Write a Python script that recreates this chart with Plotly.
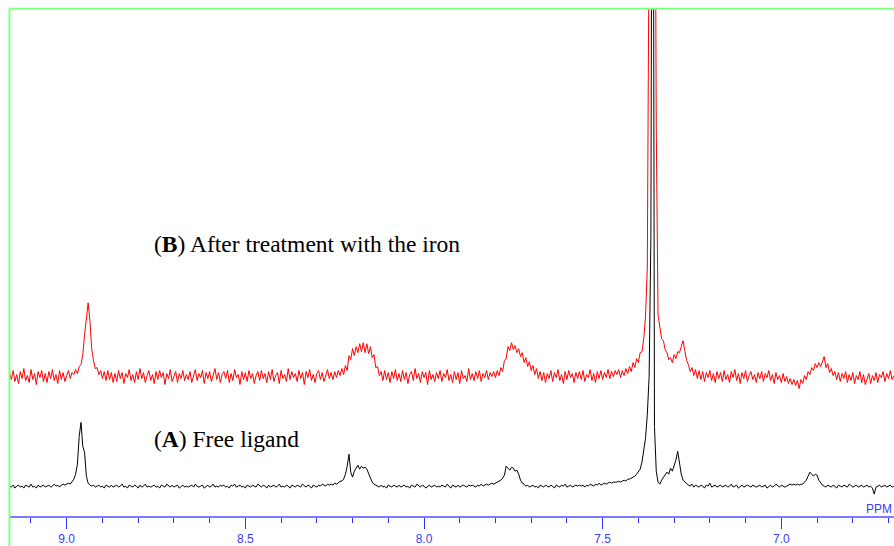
import numpy as np
import plotly.graph_objects as go

# Spectral axis (ppm), sampled every 0.005 ppm from 9.16 downwards
PPM_START = 9.16
PPM_STEP = 0.005

# (A) Free ligand -- intensity (rows of 0.1 ppm)
free_ligand = [
    0, -1, 1, -2, 0, 1, -1, 0, -2, 1, 0, -1, 2, -1, 0, -2, 1, -1, 0, 1,
    -1, 0, 1, -1, 0, 2, 0, 1, -1, 1, 2, 1, 2, 3, 2, 4, 7, 12, 22, 50,
    64, 40, 34, 10, 3, 1, 0, 1, -1, 0, 1, -1, 0, -2, 1, 0, -1, 1, -1, 0,
    1, -1, 0, 2, -1, 0, -2, 1, 0, -1, 1, 0, -2, 1, -1, 0, 2, -1, 0, -1,
    0, 1, -1, 0, -2, 1, 0, -1, 2, 0, -1, 1, -1, 0, 1, -2, 0, 1, -1, 0,
    -1, 0, 1, -1, 2, 0, -1, 0, 1, -2, 0, 1, -1, 0, 2, -1, 0, -1, 1, 0,
    1, -1, 0, -2, 1, 0, 2, -1, 0, 1, -1, 0, -2, 1, 0, -1, 1, 0, -1, 2,
    0, -1, 1, 0, -2, 1, -1, 0, 1, -1, 0, 2, -1, 0, -1, 1, 0, -2, 1, 0,
    -1, 1, 0, -1, 2, 0, -1, 1, 0, -2, 1, 0, -1, 1, 0, 2, 1, 0, 2, 1,
    2, 1, 3, 2, 3, 5, 5, 7, 12, 20, 32, 14, 9, 15, 18, 21, 17, 20, 18, 19,
    17, 13, 8, 4, 2, 1, 0, -1, 1, -1, 0, -2, 1, 0, -1, 1, 0, -1, 1, -1,
    0, 1, -1, 0, -2, 1, 0, -1, 2, 0, -1, 1, 0, -2, 0, 1, -1, 0, 1, -1,
    0, -1, 1, 0, -1, 2, 0, -2, 1, 0, -1, 1, -1, 0, 1, 0, -1, 1, 0, 1,
    0, -1, 1, 0, 2, 0, 1, 2, 1, 2, 3, 2, 3, 4, 5, 6, 8, 11, 20, 18,
    16, 19, 18, 15, 16, 12, 6, 3, 2, 0, 1, -1, 0, 1, -1, 0, -2, 1, 0, -1,
    1, 0, -1, 1, 0, -2, 1, 0, -1, 1, 0, 2, -1, 0, 1, -1, 0, 1, 0, 1,
    0, 1, -1, 1, 0, 2, 1, 0, 2, 1, 3, 1, 2, 3, 2, 3, 4, 3, 4, 4,
    4, 5, 4, 5, 6, 5, 7, 7, 8, 9, 10, 12, 14, 17, 24, 34, 48, 72, 110, 250,
    1000, 60, 15, 4, 2, 6, 9, 12, 14, 12, 18, 15, 20, 26, 35, 24, 12, 6, 4, 2,
    1, 0, 2, -1, 1, 0, -1, 1, 0, -2, 1, 0, 3, -1, 0, 1, -1, 0, 1, -1,
    0, 1, -1, 0, 2, -1, 0, 1, -2, 0, 1, -1, 0, 1, 0, -1, 1, 0, -1, 0,
    1, -1, 0, 1, -2, 0, 1, -1, 0, 2, 0, -1, 1, 0, -1, 0, 1, 2, 1, 2,
    1, 2, 1, 2, 2, 4, 6, 10, 14, 12, 10, 12, 11, 6, 3, 1, 0, -1, 1, 0,
    -1, 1, 0, -2, 1, 0, -1, 1, 0, -1, 2, 0, -1, 0, 1, -1, 0, 1, -1, 0,
    1, -1, 0, -2, -8, -1, 0, 1, -1, 0, 1, -1, 0, 1, -1, 0,
]

# (B) After treatment with the iron -- intensity
iron_treated = [
    4, -3, 6, -5, 2, -7, 5, -2, 8, -4, 1, -6, 7, -3, 3, -8, 5, -1, 6, -5,
    3, -6, 5, -2, 7, -4, 2, -7, 6, -3, 4, -5, 1, 6, -2, 4, 2, 7, 3, 10,
    12, 22, 42, 62, 74, 56, 28, 16, 8, 9, 2, 6, -2, 5, -4, 6, -3, 4, -6, 3,
    -5, 6, -2, 4, -7, 3, -1, 7, -4, 2, -6, 5, -3, 8, -2, 4, -6, 1, 6, -4,
    2, -7, 5, -3, 6, -1, 4, -8, 3, -2, 7, -5, 1, 5, -6, 3, -2, 6, -4, 2,
    -3, 5, -6, 2, 7, -4, 3, -1, 6, -7, 4, -2, 5, -5, 1, 8, -3, 4, -6, 2,
    5, -2, 6, -6, 3, -4, 7, -1, 2, -8, 5, -3, 4, -5, 6, -2, 3, -7, 1, 5,
    -4, 6, -2, 3, -6, 5, -3, 7, -5, 1, 4, -7, 6, -2, 2, -5, 8, -3, 5, -1,
    3, -5, 6, -2, 4, -8, 5, -1, 7, -4, 2, -6, 3, 6, -3, 4, -5, 2, 7, -2,
    4, -3, 5, -1, 6, 1, 8, 2, 11, 6, 21, 17, 28, 21, 30, 24, 33, 25, 34, 24,
    33, 23, 30, 19, 22, 9, 10, 1, 5, -4, 6, -3, 4, -6, 5, -2, 7, -4, 3, -5,
    6, -3, 4, -7, 2, 5, -4, 8, -2, 3, -6, 5, -1, 4, -8, 6, -3, 2, -5, 4,
    -2, 6, -5, 3, -1, 7, -4, 2, -6, 5, -3, 4, -7, 6, -2, 1, -5, 8, -3, 3,
    -4, 5, -2, 6, -5, 3, -1, 6, -3, 4, 0, 5, -1, 6, 1, 9, 5, 16, 18, 30,
    26, 34, 27, 31, 24, 28, 20, 24, 14, 19, 10, 15, 6, 11, 2, 8, -2, 5, -4, 4,
    -6, 3, -2, 6, -5, 4, -1, 7, -4, 2, -7, 5, -3, 6, -1, 3, -6, 4, -2, 5,
    -3, 6, -5, 2, -1, 7, -4, 3, -6, 5, -2, 6, -3, 4, -1, 7, -2, 5, 0, 6,
    2, 7, -1, 6, 1, 8, 3, 10, 5, 14, 9, 18, 14, 24, 25, 38, 60, 110, 420, 800,
    1200, 700, 250, 62, 50, 38, 36, 27, 24, 17, 19, 14, 22, 18, 25, 24, 30, 36, 26, 16,
    12, 5, 9, 1, 7, -2, 6, -3, 5, -5, 4, -1, 6, -4, 3, -6, 5, -2, 4, -5,
    6, -3, 2, -6, 5, -1, 7, -4, 3, -7, 4, -2, 6, -5, 1, 5, -3, 2, -6, 4,
    -2, 5, -5, 3, -1, 6, -4, 2, -7, 4, -3, 1, -6, 3, -5, 0, -7, -2, -8, -3,
    -9, -4, -12, -3, -7, 1, -3, 5, 2, 9, 6, 13, 9, 14, 10, 15, 20, 9, 13, 4,
    8, 1, 5, -3, 4, -5, 3, -2, 5, -6, 2, -4, 4, -7, 1, -3, 5, -6, 2, -8,
    -2, 3, -7, 1, -4, 4, -6, 2, -1, 5, -5, 3, -2, 6, -3, 1,
]

label_A = "(<b>A</b>) Free ligand"
label_B = "(<b>B</b>) After treatment with the iron"
axis_unit = "PPM"

# Vertical offset of the stacked (B) trace
B_OFFSET = 110

ppm = np.round(PPM_START - PPM_STEP * np.arange(len(free_ligand)), 3)

fig = go.Figure()
fig.add_trace(go.Scatter(
    x=ppm, y=np.array(iron_treated) + B_OFFSET, mode="lines",
    line=dict(color="#ff0000", width=1), hoverinfo="skip"))
fig.add_trace(go.Scatter(
    x=ppm, y=np.array(free_ligand), mode="lines",
    line=dict(color="#000000", width=1), hoverinfo="skip"))

blue = "#3a3aff"
serif = dict(family="Liberation Serif, Times New Roman", size=23.5, color="black")
fig.update_layout(
    width=894, height=546,
    margin=dict(l=10, r=0, t=9, b=28),
    paper_bgcolor="white", plot_bgcolor="white",
    showlegend=False,
    xaxis=dict(
        range=[9.1587, 6.6846], autorange=False,
        showgrid=False, zeroline=False,
        showline=True, linecolor="#7b7bff", linewidth=2,
        ticks="outside", ticklen=11, tickwidth=1, tickcolor="#3030ff",
        tick0=0, dtick=0.5, tickformat=".1f",
        tickfont=dict(family="Liberation Sans, Arial", size=12, color=blue),
        minor=dict(dtick=0.1, ticks="outside", ticklen=5, tickwidth=1,
                   tickcolor="#3030ff", showgrid=False),
        fixedrange=True,
    ),
    yaxis=dict(visible=False, range=[-30, 479], autorange=False, fixedrange=True),
    annotations=[
        dict(text=label_B, xref="paper", yref="paper", x=0.1606, y=0.537,
             xanchor="left", yanchor="middle", showarrow=False, font=serif),
        dict(text=label_A, xref="paper", yref="paper", x=0.1606, y=0.152,
             xanchor="left", yanchor="middle", showarrow=False, font=serif),
        dict(text=axis_unit, xref="paper", yref="paper", x=1.0, y=0.0147,
             xanchor="right", yanchor="middle", showarrow=False,
             font=dict(family="Liberation Sans, Arial", size=12, color=blue)),
    ],
    shapes=[
        dict(type="line", xref="paper", yref="paper", x0=-0.0006, x1=-0.0006,
             y0=1.0004, y1=-0.06, line=dict(color="#80ff80", width=2)),
        dict(type="line", xref="paper", yref="paper", x0=-0.0006, x1=1.01,
             y0=1.0004, y1=1.0004, line=dict(color="#80ff80", width=2)),
    ],
)

fig.write_html("out.html")
